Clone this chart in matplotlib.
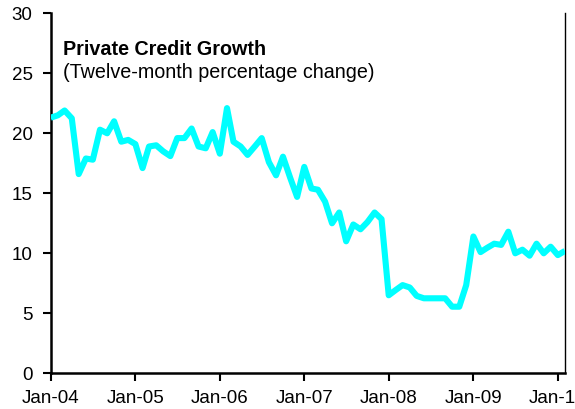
import matplotlib
matplotlib.use('Agg')
import matplotlib.pyplot as plt
import matplotlib.dates as mdates
import pandas as pd
import datetime as dt

plt.rcParams['font.family'] = ['Liberation Sans', 'DejaVu Sans']

# ---- data ----
months = pd.date_range('2004-01-01', periods=74, freq='MS')
credit_growth = [
    21.3, 21.5, 21.9, 21.25, 16.6, 17.9, 17.8, 20.3, 20.0, 21.0, 19.3, 19.45,
    19.1, 17.1, 18.9, 19.0, 18.5, 18.1, 19.6, 19.6, 20.4, 18.9, 18.75, 20.1,
    18.3, 22.1, 19.3, 18.9, 18.2, 18.9, 19.6, 17.6, 16.5, 18.05, 16.3, 14.7,
    17.2, 15.4, 15.3, 14.3, 12.5, 13.4, 11.0, 12.4, 12.0, 12.6, 13.4, 12.85,
    6.5, 6.95, 7.35, 7.15, 6.45, 6.25, 6.25, 6.25, 6.25, 5.55, 5.55, 7.35,
    11.4, 10.1, 10.45, 10.8, 10.7, 11.8, 10.0, 10.3, 9.8, 10.8, 10.0, 10.55,
    9.85, 10.2,
]
title = "Private Credit Growth"
subtitle = "(Twelve-month percentage change)"
y_ticks = [0, 5, 10, 15, 20, 25, 30]
x_tick_years = [2004, 2005, 2006, 2007, 2008, 2009, 2010]

# ---- figure ----
fig = plt.figure(figsize=(5.75, 4.09), dpi=100)
ax = fig.add_axes([0.0882, 0.0873, 0.9826 - 0.0882, 0.9675 - 0.0873])

ax.plot(months, credit_growth, color='#00FFFF', lw=4.4,
        solid_joinstyle='round', solid_capstyle='butt', zorder=3)

ax.set_xlim(dt.datetime(2004, 1, 1), dt.datetime(2010, 2, 1))
ax.set_ylim(0, 30)
ax.set_yticks(y_ticks)
ax.set_xticks([dt.datetime(y, 1, 1) for y in x_tick_years])
ax.xaxis.set_major_formatter(mdates.DateFormatter('%b-%y'))

ax.spines['top'].set_visible(False)
ax.spines['right'].set_linewidth(1.0)
ax.spines['left'].set_linewidth(1.8)
ax.spines['bottom'].set_linewidth(1.8)

ax.tick_params(axis='both', direction='out', length=6, width=1.5,
               labelsize=13.5, colors='black')
ax.tick_params(axis='y', pad=7)
ax.tick_params(axis='x', pad=6)

ax.text(0.024, 0.884, title, transform=ax.transAxes, fontsize=14.2,
        fontweight='bold', va='baseline', ha='left')
ax.text(0.024, 0.819, subtitle, transform=ax.transAxes, fontsize=14.2,
        va='baseline', ha='left')

fig.savefig('out.png', dpi=100)
